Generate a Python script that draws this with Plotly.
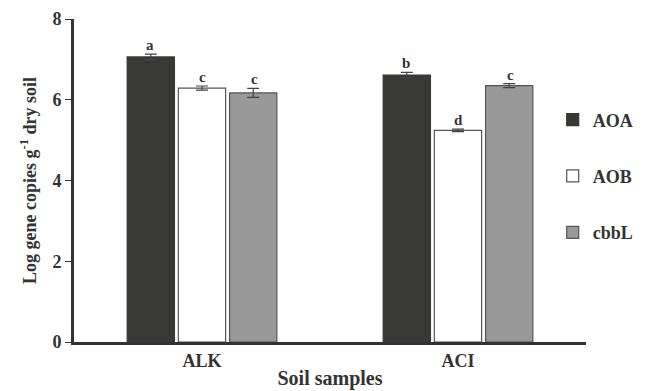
import plotly.graph_objects as go

categories = ["ALK", "ACI"]
series_names = ["AOA", "AOB", "cbbL"]
aoa = [7.06, 6.61]
aob = [6.29, 5.24]
cbbl = [6.17, 6.35]
aoa_err = [0.07, 0.07]
aob_err = [0.05, 0.03]
cbbl_err = [0.11, 0.05]
aoa_letters = ["a", "b"]
aob_letters = ["c", "d"]
cbbl_letters = ["c", "c"]
y_ticks = [0, 2, 4, 6, 8]

FONT = "Liberation Serif"
AX = "#333333"

values = [aoa, aob, cbbl]
errors = [aoa_err, aob_err, cbbl_err]
letters = [aoa_letters, aob_letters, cbbl_letters]
fills = ["#383836", "#ffffff", "#999999"]
lines = ["#383836", "#555555", "#555555"]

fig = go.Figure()
for i, name in enumerate(series_names):
    fig.add_trace(go.Bar(
        x=categories, y=values[i], name=name,
        marker=dict(color=fills[i], line=dict(color=lines[i], width=1.2)),
        error_y=dict(type="data", array=errors[i], color="#444444",
                     thickness=1.2, width=6),
        legendgroup=name,
    ))

annotations = []
for i in range(3):
    for j, cat in enumerate(categories):
        annotations.append(dict(
            x=cat, y=values[i][j] + errors[i][j], xref="x", yref="y",
            text=letters[i][j], showarrow=False,
            xshift=(i - 1) * 52, yanchor="bottom", yshift=-1,
            font=dict(family=FONT, size=15, color="#333333", weight="bold"),
        ))

fig.update_layout(
    width=651, height=391,
    margin=dict(l=74, r=55, t=19, b=49),
    paper_bgcolor="white", plot_bgcolor="white",
    barmode="group", bargap=0.40, bargroupgap=0.077,
    font=dict(family=FONT, size=17, color="#333333"),
    showlegend=True,
    legend=dict(x=0.935, y=0.745, xanchor="left", yanchor="top",
                traceorder="grouped", tracegroupgap=30,
                bgcolor="rgba(0,0,0,0)",
                font=dict(family=FONT, size=18, color="#333333", weight="bold")),
    annotations=annotations,
    xaxis=dict(
        automargin=False,
        showline=True, linecolor=AX, linewidth=3, ticks="",
        tickfont=dict(family=FONT, size=18, color="#333333", weight="bold"),
        title=dict(text="Soil samples", standoff=2,
                   font=dict(family=FONT, size=20, color="#333333", weight="bold")),
        showgrid=False, zeroline=False,
    ),
    yaxis=dict(
        automargin=False,
        range=[0, 8], tickvals=y_ticks,
        showline=True, linecolor=AX, linewidth=3,
        ticks="outside", ticklen=6, tickwidth=1, tickcolor=AX,
        tickfont=dict(family=FONT, size=18, color="#333333", weight="bold"),
        title=dict(text="Log gene copies g<sup>-1</sup> dry soil", standoff=12,
                   font=dict(family=FONT, size=18, color="#333333", weight="bold")),
        showgrid=False, zeroline=False,
    ),
)

fig.write_html("out.html")
